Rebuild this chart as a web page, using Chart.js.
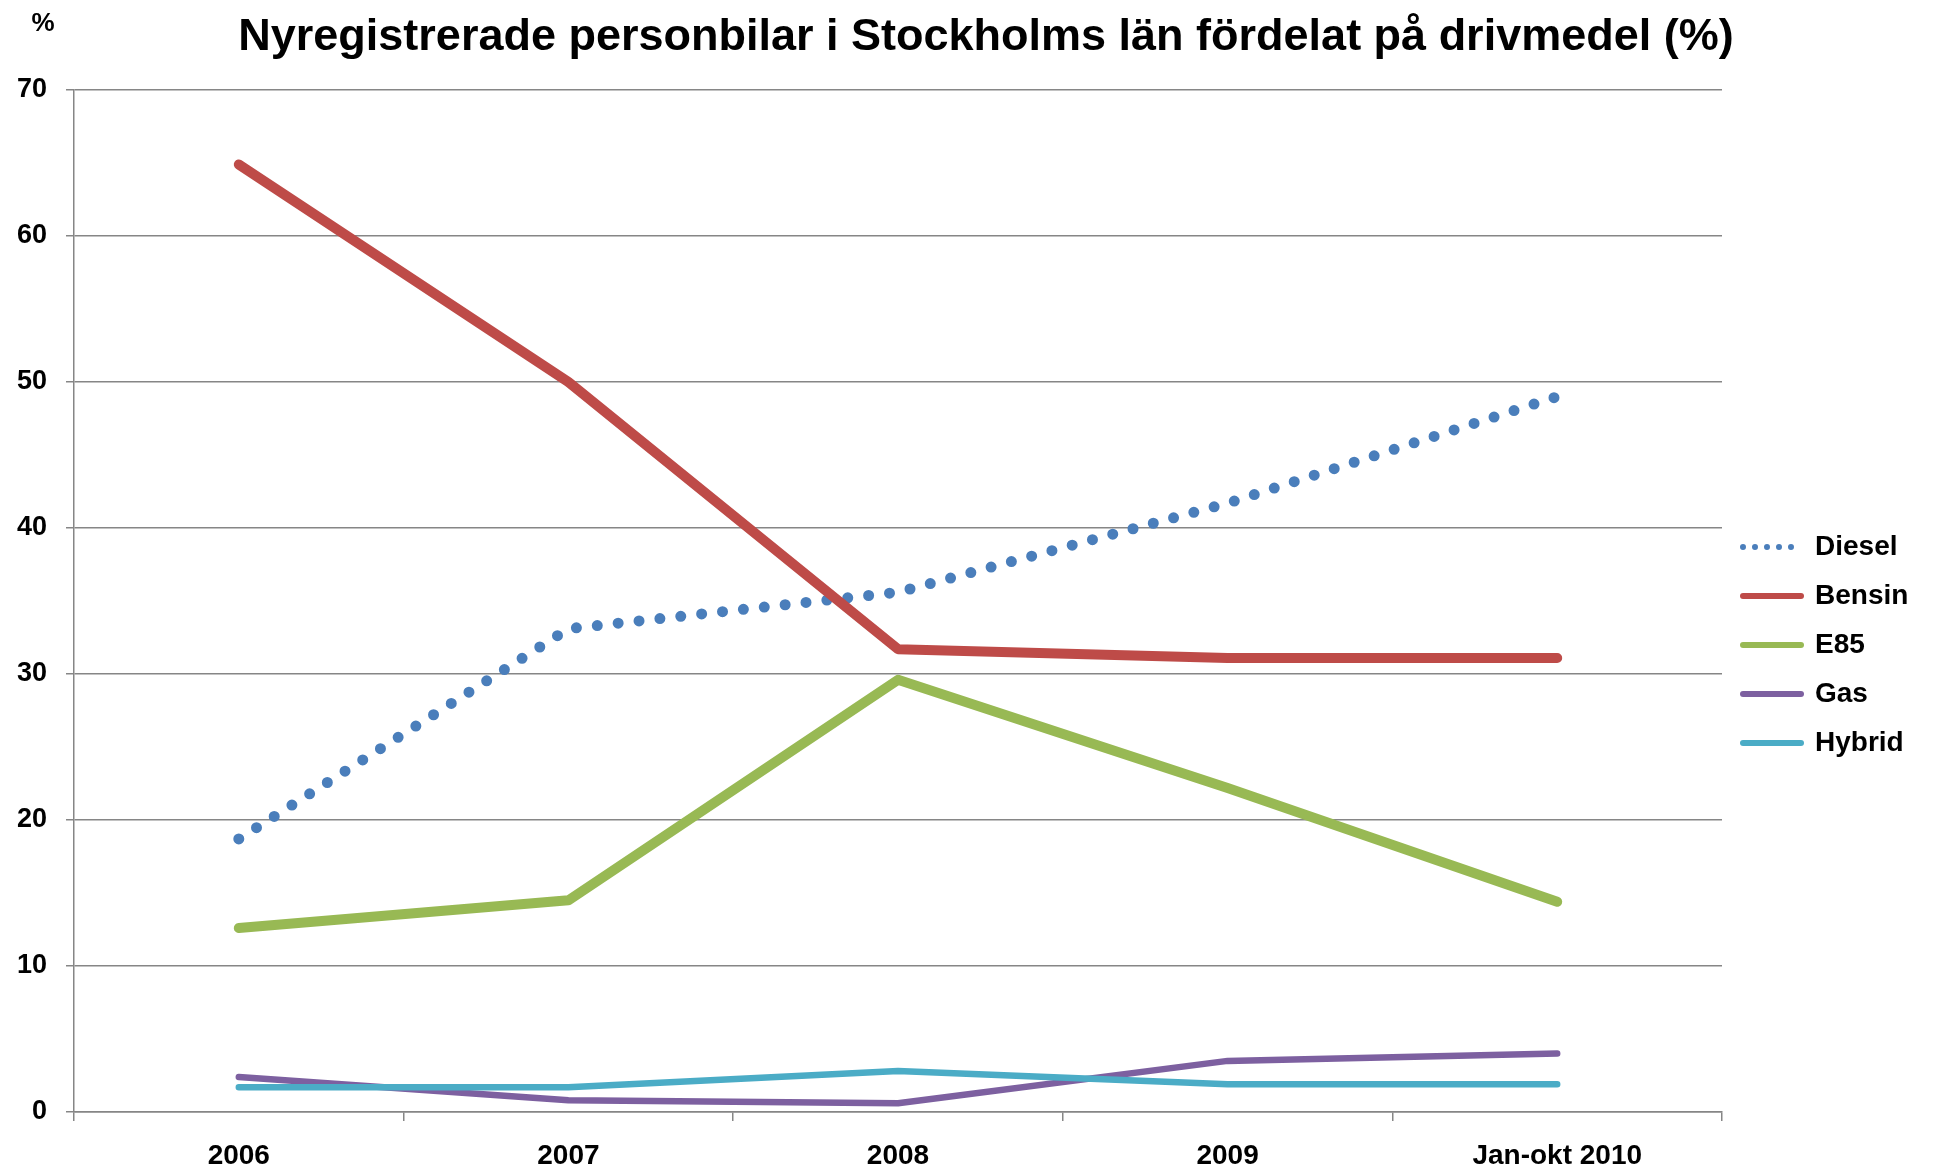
<!DOCTYPE html>
<html lang="sv">
<head>
<meta charset="UTF-8">
<title>Nyregistrerade personbilar i Stockholms län</title>
<script src="https://cdn.jsdelivr.net/npm/chart.js"></script>
<style>
  html, body { margin: 0; padding: 0; background: #fff; }
  canvas { display: block; }
</style>
</head>
<body>
<canvas id="chart" width="1936" height="1173"></canvas>
<script>
// values (%)
const years  = ['2006', '2007', '2008', '2009', 'Jan-okt 2010'];
const diesel = [18.7, 33.1, 35.6, 41.7, 49.0];
const bensin = [64.9, 50.0, 31.7, 31.1, 31.1];
const e85    = [12.6, 14.5, 29.6, 22.2, 14.4];
const gas    = [2.4, 0.8, 0.6, 3.5, 4.0];
const hybrid = [1.7, 1.7, 2.8, 1.9, 1.9];
const yTicks = [0, 10, 20, 30, 40, 50, 60, 70];

const FONT = "'Liberation Sans', Arial, sans-serif";
Chart.defaults.font.family = FONT;
Chart.defaults.font.weight = 'bold';
Chart.defaults.color = '#000';

const gray = '#868686';

// legend sizes, used to keep the plot's right edge where the original has it
const legendFont = 28, legendPad = 21, legendLine = 58;
const m = document.createElement('canvas').getContext('2d');
m.font = 'bold ' + legendFont + 'px ' + FONT;
const textW = Math.max(...['Diesel', 'Bensin', 'E85', 'Gas', 'Hybrid'].map(t => m.measureText(t).width));
const legendW = legendPad + legendLine + legendFont / 2 + textW + 10;
const rightPad = Math.max(0, 1936 - 1722 - legendW);

// title sits a bit right of the canvas centre in the original
const shiftTitle = {
  id: 'shiftTitle',
  afterLayout(chart) {
    const t = chart.titleBlock;
    const dx = 986 - (t.left + t.right) / 2;
    t.left += dx;
    t.right += dx;
  }
};

// the "%" unit above the y axis
const percentLabel = {
  id: 'percentLabel',
  afterDraw(chart) {
    const ctx = chart.ctx;
    ctx.save();
    ctx.font = 'bold 26px ' + FONT;
    ctx.fillStyle = '#000';
    ctx.textAlign = 'center';
    ctx.textBaseline = 'middle';
    ctx.fillText('%', chart.scales.y.right - 31, 24);
    ctx.restore();
  }
};

function line(label, data, color, width, order) {
  return {
    label: label, data: data, order: order,
    borderColor: color, backgroundColor: color,
    borderWidth: width, borderCapStyle: 'round', borderJoinStyle: 'round',
    pointRadius: 0, pointHoverRadius: 0, fill: false, tension: 0
  };
}

const dieselSet = line('Diesel', diesel, '#4A7EBB', 11, 4);
dieselSet.borderDash = [0, 21];

new Chart(document.getElementById('chart'), {
  type: 'line',
  data: {
    labels: years,
    datasets: [
      dieselSet,
      line('Bensin', bensin, '#BE4B48', 10, 3),
      line('E85', e85, '#98B954', 10, 2),
      line('Gas', gas, '#7D60A0', 6.5, 1),
      line('Hybrid', hybrid, '#4BACC6', 6.5, 0)
    ]
  },
  options: {
    responsive: false,
    animation: false,
    devicePixelRatio: 1,
    layout: { padding: { left: 0, right: rightPad, top: 0, bottom: 0 } },
    plugins: {
      tooltip: { enabled: false },
      title: {
        display: true,
        text: 'Nyregistrerade personbilar i Stockholms län fördelat på drivmedel (%)',
        font: { size: 45, weight: 'bold' },
        color: '#000',
        padding: { top: 11, bottom: 25 }
      },
      legend: {
        position: 'right',
        fullSize: false,
        title: { display: true, text: '', font: { size: 10 }, padding: { top: 0, bottom: 76 } },
        labels: {
          usePointStyle: true,
          pointStyle: 'line',
          pointStyleWidth: legendLine,
          padding: legendPad,
          font: { size: legendFont, weight: 'bold' },
          color: '#000',
          sort: (a, b) => a.datasetIndex - b.datasetIndex,
          generateLabels(chart) {
            return Chart.defaults.plugins.legend.labels.generateLabels(chart).map(item => {
              const ds = chart.data.datasets[item.datasetIndex];
              item.lineCap = 'round';
              item.lineWidth = 6;
              item.lineDash = ds.borderDash ? [0, 12] : [];
              return item;
            });
          }
        }
      }
    },
    scales: {
      x: {
        offset: true,
        grid: { offset: true, drawOnChartArea: false, drawTicks: true, tickLength: 9, color: gray, lineWidth: 1.5 },
        border: { color: gray, width: 1.5 },
        ticks: { padding: 18, font: { size: 28, weight: 'bold' }, color: '#000', maxRotation: 0, autoSkip: false },
        afterFit(scale) { scale.height = 61; }
      },
      y: {
        min: 0,
        max: 70,
        afterBuildTicks(scale) { scale.ticks = yTicks.map(v => ({ value: v })); },
        grid: { color: gray, lineWidth: 1.5, tickLength: 8 },
        border: { color: gray, width: 1.5 },
        ticks: { padding: 19, font: { size: 27, weight: 'bold' }, color: '#000' },
        afterFit(scale) { scale.width = 74; }
      }
    }
  },
  plugins: [shiftTitle, percentLabel]
});
</script>
</body>
</html>
